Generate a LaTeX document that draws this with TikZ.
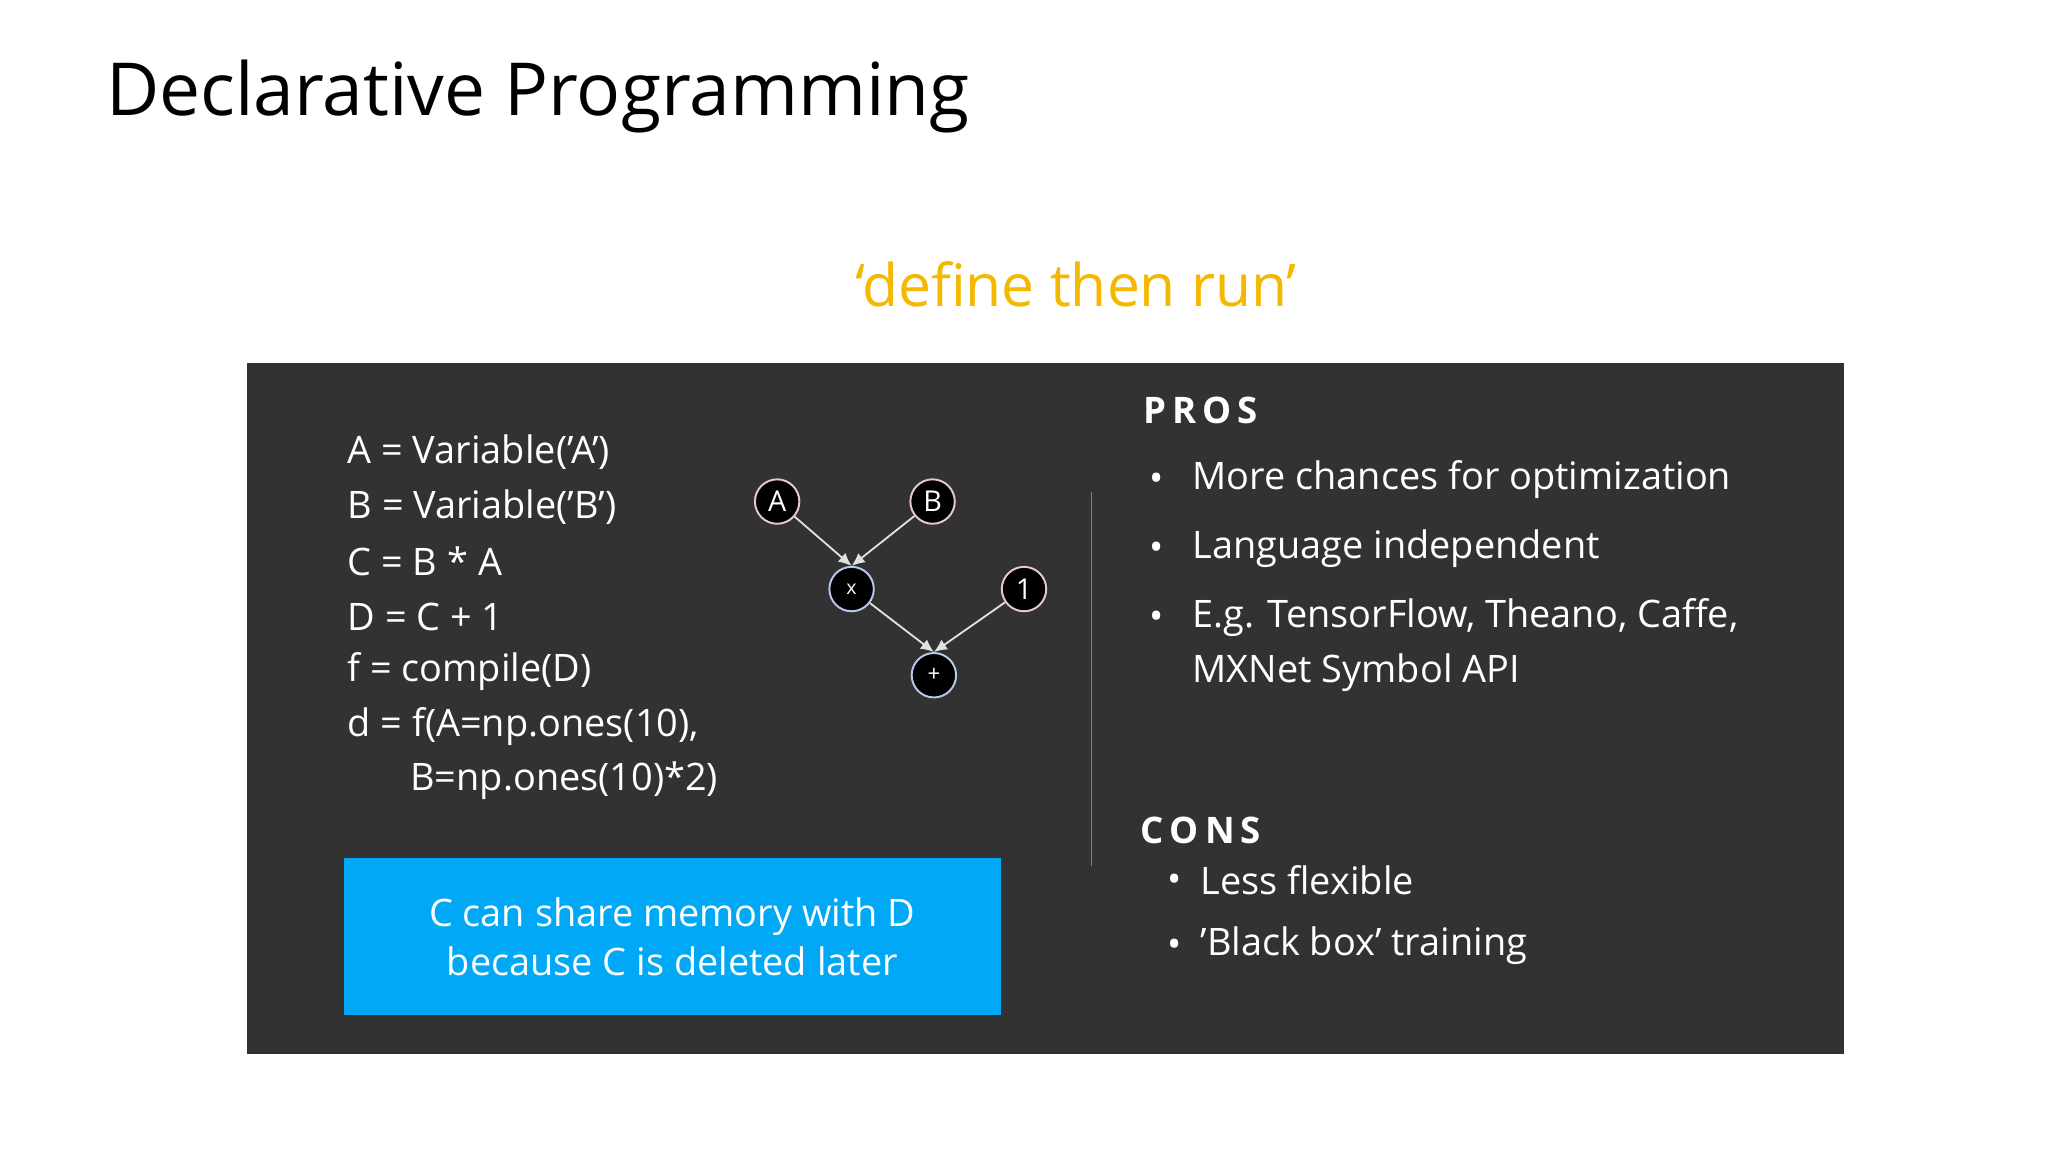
\documentclass[tikz,border=0pt]{standalone}
\usepackage{fontspec}
\setmainfont{Open Sans}
\usetikzlibrary{arrows.meta}
\definecolor{panel}{HTML}{333233}
\definecolor{skyb}{HTML}{00A8F5}
\definecolor{gold}{HTML}{F5B800}
\definecolor{pinkb}{HTML}{E8C8CC}
\definecolor{blueb}{HTML}{B8C8EC}
\tikzset{
 code/.style={anchor=west,text=white,font=\fontsize{29}{34}\selectfont,inner sep=0},
 item/.style={anchor=west,text=white,font=\fontsize{29}{34}\selectfont,inner sep=0},
 head/.style={anchor=west,text=white,font=\fontsize{28}{34}\selectfont\bfseries,inner sep=0},
 gnode/.style={circle,fill=black,draw=#1,line width=1.5pt,minimum size=34pt,inner sep=0,text=white,font=\fontsize{22}{24}\selectfont},
 garr/.style={draw={rgb,255:red,225;green,225;blue,225},line width=1.4pt,-{Latex[length=10pt,width=9pt]}},
}
\begin{document}
\begin{tikzpicture}[x=1pt,y=-1pt]
\useasboundingbox (0,0) rectangle (1568,882);
\fill[white] (0,0) rectangle (1568,882);
\node[anchor=west,inner sep=0,font=\fontsize{56}{60}\selectfont] (title) at (81,74) {Declarative Programming};
\node[text=gold,inner sep=0,font=\fontsize{45}{50}\selectfont] (sub) at (824,218) {‘define then run’};
\fill[panel] (189,278) rectangle (1412,807);
\node[code] (c1) at (266,346) {A = Variable('A')};
\node[code] (c2) at (266,388) {B = Variable('B')};
\node[code] (c3) at (266,430) {C = B * A};
\node[code] (c4) at (266,472) {D = C + 1};
\node[code] (c5) at (266,514) {f = compile(D)};
\node[code] (c6) at (266,556) {d = f(A=np.ones(10),};
\node[code] (c7) at (314,598) {B=np.ones(10)*2)};
\node[gnode=pinkb] (A) at (595,384) {A};
\node[gnode=pinkb] (B) at (714,384) {B};
\node[gnode=blueb,font=\fontsize{15}{16}\selectfont] (X) at (652,451) {x};
\node[gnode=pinkb] (one) at (784,451) {1};
\node[gnode=blueb,font=\fontsize{17}{18}\selectfont] (P) at (715,517) {+};
\draw[garr] (A) -- (X.north);
\draw[garr] (B) -- (X.north);
\draw[garr] (X) -- (P.north);
\draw[garr] (one) -- (P.north);
\node[fill=skyb,minimum width=503pt,minimum height=120pt,anchor=north west,inner sep=0] (memo) at (263,657) {};
\node[text=white,align=center,font=\fontsize{29}{37}\selectfont] (memot) at (memo.center) {C can share memory with D\\because C is deleted later};
\coordinate (v1) at (836,377); \coordinate (v2) at (836,663);
\draw[gray,line width=0.8pt] (v1) -- (v2);
\node[head] (pros) at (875,314) {P\,R\,O\,S};
\foreach \y/\t [count=\i] in {367/More chances for optimization,420/Language independent,473/{E.g. TensorFlow, Theano, Caffe,}}{
 \node[item] (pb\i) at (880,\y+2) {•};
 \node[item] (pt\i) at (913,\y) {\t};
}
\node[item] (pt4) at (913,515) {MXNet Symbol API};
\node[head] (cons) at (873,636) {C\,O\,N\,S};
\node[item] (cb1) at (894,676) {•};
\node[item] (ct1) at (919,674) {Less flexible};
\node[item] (cb2) at (894,726) {•};
\node[item] (ct2) at (919,724) {’Black box’ training};
\end{tikzpicture}
\end{document}
